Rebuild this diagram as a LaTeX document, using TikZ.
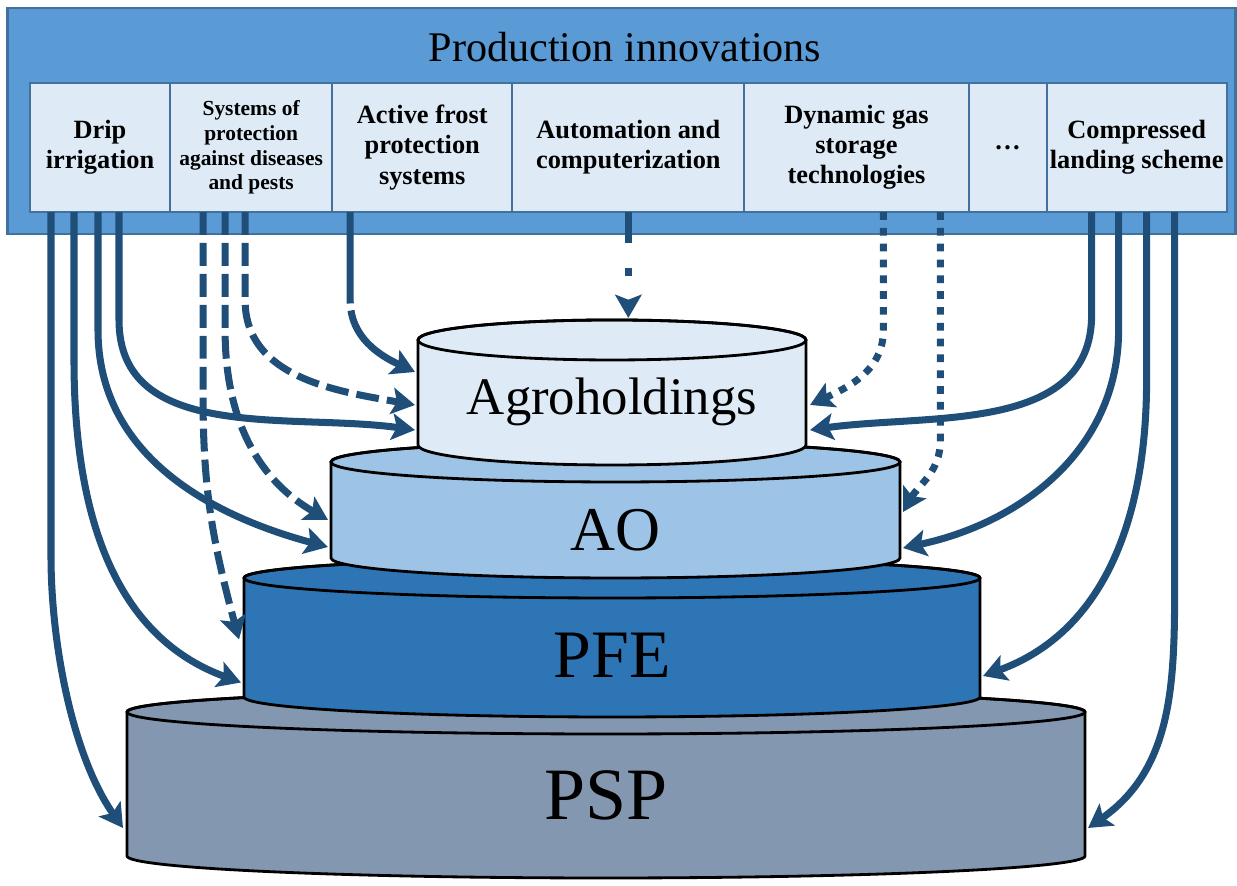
\documentclass[tikz,border=0pt]{standalone}
\usepackage{fontspec}
\setmainfont{Liberation Serif}
\usetikzlibrary{arrows.meta,positioning,calc}

\definecolor{bandblue}{HTML}{5B9BD5}
\definecolor{edgeblue}{HTML}{41719C}
\definecolor{paleblue}{HTML}{DEEBF7}
\definecolor{aoblue}{HTML}{9DC3E6}
\definecolor{pfeblue}{HTML}{2E75B6}
\definecolor{pspgray}{HTML}{8497B0}
\definecolor{flowblue}{HTML}{1F4E79}

\begin{document}
\begin{tikzpicture}[
  x=0.01cm, y=0.01cm,
  innov/.style={draw=edgeblue, line width=0.6pt, fill=paleblue, minimum height=1.29cm, inner sep=0pt, outer sep=0pt, align=center, font=\fontsize{7.5}{8.6}\selectfont\bfseries},
  tierbody/.style={inner sep=0pt, outer sep=0pt},
  tierline/.style={draw=black, line width=0.8pt},
  flow/.style={->, draw=flowblue, line width=2pt, >={Stealth[length=6.6pt, width=7.5pt, inset=1.4pt]}},
  dashedflow/.style={flow, dash pattern=on 6.5pt off 2.3pt},
  dottedflow/.style={flow, dash pattern=on 2.2pt off 2.3pt},
  longflow/.style={flow, dash pattern=on 26pt off 2pt},
  dotdashflow/.style={flow, dash pattern=on 8.8pt off 7pt on 2.3pt off 7pt}
]
  \useasboundingbox (0,0) rectangle (1237,886);

  % Innovation band
  \node[draw=edgeblue, fill=bandblue, line width=0.8pt, minimum width=12.27cm, minimum height=2.26cm, inner sep=0pt, outer sep=0pt] (band) at (621.5,765) {};
  \node[font=\fontsize{12}{14}\selectfont] (title) at (625,839) {Production innovations};

  \node[innov, minimum width=1.40cm, anchor=north west] (drip) at (30,803) {Drip\\irrigation};
  \node[innov, minimum width=1.62cm, right=0pt of drip, font=\fontsize{6.1}{7}\selectfont\bfseries] (pest) {Systems of\\protection\\against diseases\\and pests};
  \node[innov, minimum width=1.80cm, right=0pt of pest] (frost) {Active frost\\protection\\systems};
  \node[innov, minimum width=2.32cm, right=0pt of frost] (auto) {Automation and\\computerization};
  \node[innov, minimum width=2.24cm, right=0pt of auto] (gas) {Dynamic gas\\storage\\technologies};
  \node[innov, minimum width=0.78cm, right=0pt of gas] (more) {\dots};
  \node[innov, minimum width=1.80cm, right=0pt of more] (dense) {Compressed\\landing scheme};

  % Tiers, bottom to top
  \foreach \nm/\cx/\cy/\w/\h/\ry/\col/\ty/\txt/\fs in {
    psp/606/102/958/144/22/pspgray/91/PSP/21,
    pfe/612/248.5/736/119/20/pfeblue/231/PFE/19.3,
    ao/615.5/376/569/96/20/aoblue/356/AO/17.7,
    agro/612/493.5/388/105/20/paleblue/484/Agroholdings/15} {
    \node[tierbody, minimum width=\w*0.01cm, minimum height=\h*0.01cm] (\nm) at (\cx,\cy) {};
    \filldraw[tierline, fill=\col] (\nm.north west) -- (\nm.south west)
      arc[start angle=180, end angle=360, x radius=\w/2, y radius=\ry]
      -- (\nm.north east)
      arc[start angle=0, end angle=180, x radius=\w/2, y radius=\ry] -- cycle;
    \draw[tierline] (\nm.north) ellipse[x radius=\w/2, y radius=\ry];
    \node[font=\fontsize{\fs}{\fs}\selectfont] (\nm-lbl) at (\cx,\ty) {\txt};
  }

  % Drip irrigation
  \draw[flow] ($(drip.south west)+(89,0)$) -- ++(0,-108) to[out=-90,in=172] ($(agro.west)+(-3,-37.5)$);
  \draw[flow] ($(drip.south west)+(68,0)$) -- ++(0,-118) to[out=-90,in=165] ($(ao.west)+(-3,-37)$);
  \draw[flow] ($(drip.south west)+(44,0)$) -- ++(0,-148) to[out=-90,in=160] ($(pfe.west)+(-3,-45)$);
  \draw[flow] ($(drip.south west)+(21,0)$) -- ++(0,-344) to[out=-90,in=125,looseness=0.8] ($(psp.west)+(-4,-44)$);

  % Protection systems
  \draw[dashedflow] ($(pest.south west)+(75,0)$) -- ++(0,-88) to[out=-90,in=170] ($(agro.west)+(-3,-12.5)$);
  \draw[dashedflow] ($(pest.south west)+(55,0)$) -- ++(0,-118) to[out=-90,in=150] ($(ao.west)+(-3,-10)$);
  \draw[dashedflow] ($(pest.south west)+(33,0)$) -- ++(0,-188) to[out=-90,in=105] ($(pfe.west)+(-5,-2)$);

  % Frost protection
  \draw[longflow] ($(frost.south west)+(18,0)$) -- ++(0,-88) to[out=-90,in=155] ($(agro.west)+(-3,20.5)$);

  % Automation
  \draw[dotdashflow] (auto.south) -- ($(auto.south |- agro.north)+(0,22)$);

  % Gas storage
  \draw[dottedflow] ($(gas.south west)+(139,0)$) -- ++(0,-118) to[out=-90,in=25] ($(agro.east)+(4,-12.5)$);
  \draw[dottedflow] ($(gas.south west)+(196,0)$) -- ++(0,-228) to[out=-90,in=60] ($(ao.east)+(3,-2)$);

  % Compressed landing
  \draw[flow] ($(dense.south west)+(45,0)$) -- ++(0,-103) to[out=-90,in=8] ($(agro.east)+(4,-37.5)$);
  \draw[flow] ($(dense.south west)+(72,0)$) -- ++(0,-118) to[out=-90,in=12] ($(ao.east)+(3,-38)$);
  \draw[flow] ($(dense.south west)+(100,0)$) -- ++(0,-168) to[out=-90,in=20] ($(pfe.east)+(3,-38.5)$);
  \draw[flow] ($(dense.south west)+(128,0)$) -- ++(0,-348) to[out=-90,in=35] ($(psp.east)+(3,-44)$);
\end{tikzpicture}
\end{document}
